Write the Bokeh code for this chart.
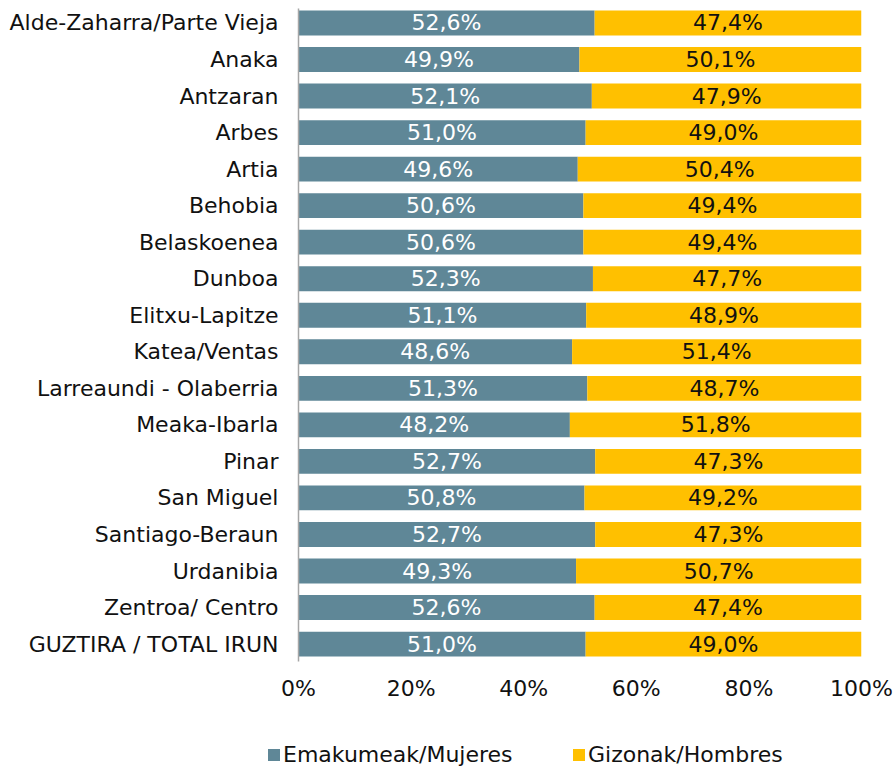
from bokeh.plotting import figure
from bokeh.layouts import column
from bokeh.models import (ColumnDataSource, Range1d, FixedTicker, Div)
from bokeh.core.properties import value
from bokeh.embed import file_html
from bokeh.resources import INLINE

categories = ["Alde-Zaharra/Parte Vieja", "Anaka", "Antzaran", "Arbes", "Artia", "Behobia",
              "Belaskoenea", "Dunboa", "Elitxu-Lapitze", "Katea/Ventas", "Larreaundi - Olaberria",
              "Meaka-Ibarla", "Pinar", "San Miguel", "Santiago-Beraun", "Urdanibia",
              "Zentroa/ Centro", "GUZTIRA / TOTAL IRUN"]
mujeres = [52.6, 49.9, 52.1, 51.0, 49.6, 50.6, 50.6, 52.3, 51.1, 48.6, 51.3, 48.2, 52.7, 50.8, 52.7, 49.3, 52.6, 51.0]
hombres = [47.4, 50.1, 47.9, 49.0, 50.4, 49.4, 49.4, 47.7, 48.9, 51.4, 48.7, 51.8, 47.3, 49.2, 47.3, 50.7, 47.4, 49.0]
x_ticks = [0, 20, 40, 60, 80, 100]
x_tick_labels = ["0%", "20%", "40%", "60%", "80%", "100%"]
series_names = ["Emakumeak/Mujeres", "Gizonak/Hombres"]

FONT = "DejaVu Sans"
FS = "22px"
C1 = "#5F8797"
C2 = "#FFC000"

def fmt(v):
    return ("%.1f" % v).replace(".", ",") + "%"

pos = list(range(len(categories)))
src = ColumnDataSource(dict(
    y=pos,
    m_end=mujeres,
    h_end=[a + b for a, b in zip(mujeres, hombres)],
    m_mid=[a / 2 for a in mujeres],
    h_mid=[a + b / 2 for a, b in zip(mujeres, hombres)],
    m_lab=[fmt(v) for v in mujeres],
    h_lab=[fmt(v) for v in hombres],
))

p = figure(width=893, height=703, output_backend="svg", toolbar_location=None,
           x_range=Range1d(0, 100), y_range=Range1d(17.477, -0.396),
           min_border_left=298, min_border_right=32, min_border_top=8, min_border_bottom=40)
p.outline_line_color = None
p.xgrid.visible = False
p.ygrid.visible = False
p.background_fill_color = "white"

r1 = p.hbar(y="y", left=0, right="m_end", height=0.68, source=src, fill_color=C1, line_color=None)
r2 = p.hbar(y="y", left="m_end", right="h_end", height=0.68, source=src, fill_color=C2, line_color=None)

p.text(x="m_mid", y="y", text="m_lab", source=src, text_align="center", text_baseline="middle",
       text_color="white", text_font=value(FONT), text_font_size=FS)
p.text(x="h_mid", y="y", text="h_lab", source=src, text_align="center", text_baseline="middle",
       text_color="#111111", text_font=value(FONT), text_font_size=FS)

# y axis
ya = p.yaxis[0]
ya.ticker = FixedTicker(ticks=pos)
ya.major_label_overrides = {i: c for i, c in enumerate(categories)}
ya.major_tick_line_color = None
ya.minor_tick_line_color = None
ya.axis_line_color = "#A6A6A6"
ya.axis_line_width = 1.5
ya.major_label_text_font = FONT
ya.major_label_text_font_size = FS
ya.major_label_text_color = "#111111"
ya.major_label_standoff = 14

# x axis
xa = p.xaxis[0]
xa.ticker = FixedTicker(ticks=x_ticks)
xa.major_label_overrides = {t: l for t, l in zip(x_ticks, x_tick_labels)}
xa.major_tick_line_color = None
xa.minor_tick_line_color = None
xa.axis_line_color = None
xa.major_label_text_font = FONT
xa.major_label_text_font_size = FS
xa.major_label_text_color = "#111111"
xa.major_label_standoff = 8

# legend strip below the chart
legend_html = (
    '<div style="position:relative;width:893px;height:64px;'
    'font-family:\'DejaVu Sans\';font-size:22px;color:#111111;">'
    '<span style="position:absolute;left:268px;top:46px;width:12px;height:12px;background:%s;"></span>'
    '<span style="position:absolute;left:283px;top:39px;line-height:26px;white-space:nowrap;">%s</span>'
    '<span style="position:absolute;left:573px;top:46px;width:12px;height:12px;background:%s;"></span>'
    '<span style="position:absolute;left:588px;top:39px;line-height:26px;white-space:nowrap;">%s</span>'
    '</div>' % (C1, series_names[0], C2, series_names[1])
)
leg = Div(text=legend_html, width=893, height=64, margin=0)

layout = column(p, leg, spacing=0)
open("out.html", "w").write(file_html(layout, INLINE))
